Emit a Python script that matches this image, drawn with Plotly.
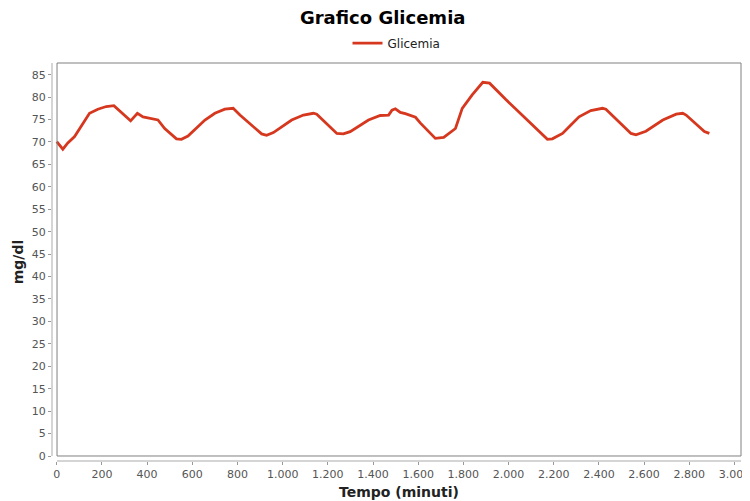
import plotly.graph_objects as go

tempo = [0, 27, 49, 79, 145, 182, 219, 253, 327, 357, 382, 448, 478, 530, 552, 581,
         656, 700, 744, 781, 811, 907, 929, 959, 1040, 1092, 1136, 1151, 1240, 1269,
         1299, 1380, 1432, 1469, 1484, 1499, 1521, 1543, 1588, 1610, 1676, 1713, 1765,
         1795, 1839, 1886, 1916, 1987, 2091, 2172, 2194, 2239, 2276, 2312, 2364, 2416,
         2431, 2542, 2564, 2608, 2683, 2742, 2771, 2786, 2867, 2889]
glicemia = [70.1, 68.4, 69.8, 71.2, 76.4, 77.3, 77.9, 78.1, 74.7, 76.4, 75.6, 74.9,
            73.0, 70.7, 70.6, 71.3, 74.9, 76.4, 77.3, 77.5, 76.0, 71.8, 71.5, 72.1,
            74.9, 76.0, 76.4, 76.2, 71.9, 71.8, 72.3, 74.9, 75.9, 76.0, 77.1, 77.4,
            76.6, 76.3, 75.5, 74.2, 70.8, 71.0, 73.0, 77.5, 80.5, 83.3, 83.1, 79.5,
            74.5, 70.6, 70.7, 71.9, 73.8, 75.6, 77.0, 77.5, 77.3, 71.9, 71.6, 72.4,
            74.9, 76.2, 76.4, 76.0, 72.3, 71.9]

x_ticks = list(range(0, 3001, 200))
y_ticks = list(range(0, 86, 5))

RED = "#d6381f"
TICKCOL = "#555555"
FONT = "DejaVu Sans"

fig = go.Figure()
fig.add_trace(go.Scatter(x=tempo, y=glicemia, mode="lines", name="Glicemia",
                         line=dict(color=RED, width=2.8)))

bx = 0.0073
by = 0.0126
fig.update_layout(
    width=742, height=493,
    margin=dict(l=44, r=9, t=55, b=40, autoexpand=False),
    paper_bgcolor="white", plot_bgcolor="white",
    separators=",.",
    title=dict(text="<b>Grafico Glicemia</b>", x=0.505, xanchor="center",
               y=0.98, yanchor="middle",
               font=dict(family=FONT, size=18, color="black")),
    showlegend=True,
    legend=dict(orientation="h", x=0.5, xanchor="center", y=1.05, yanchor="middle",
                font=dict(family=FONT, size=12, color="#222222"),
                itemwidth=30, bgcolor="rgba(0,0,0,0)"),
    xaxis=dict(range=[-21, 3029], tickmode="array", tickvals=x_ticks,
               separatethousands=True, showgrid=False, zeroline=False,
               showline=False, ticks="outside", ticklen=3, tickcolor="#999999",
               automargin=False, ticklabeloverflow="allow",
               tickfont=dict(family=FONT, size=11, color=TICKCOL)),
    yaxis=dict(range=[-1.11, 87.6], tickmode="array", tickvals=y_ticks,
               showgrid=False, zeroline=False, showline=False,
               ticks="outside", ticklen=3, tickcolor="#999999",
               automargin=False, ticklabeloverflow="allow",
               tickfont=dict(family=FONT, size=11, color=TICKCOL)),
    shapes=[
        dict(type="rect", xref="paper", yref="paper", x0=bx, x1=1, y0=by, y1=1,
             line=dict(color="#808080", width=1), layer="above"),
        dict(type="line", xref="paper", yref="paper", x0=bx, x1=1, y0=0, y1=0,
             line=dict(color="#aaaaaa", width=1)),
        dict(type="line", xref="paper", yref="paper", x0=0, x1=0, y0=by, y1=1,
             line=dict(color="#aaaaaa", width=1)),
    ],
    annotations=[
        dict(text="<b>Tempo (minuti)</b>", xref="paper", yref="paper", x=0.504,
             y=-0.078, xanchor="center", yanchor="middle", showarrow=False,
             font=dict(family=FONT, size=14, color="#222222")),
        dict(text="<b>mg/dl</b>", xref="paper", yref="paper", x=-0.049, y=0.5,
             xanchor="center", yanchor="middle", showarrow=False, textangle=-90,
             font=dict(family=FONT, size=14, color="#222222")),
    ],
)

fig.write_html("out.html")
